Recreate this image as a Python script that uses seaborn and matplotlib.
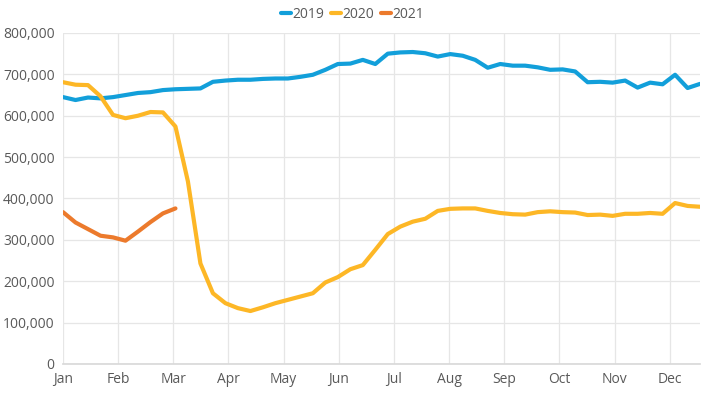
import pandas as pd
import numpy as np
import matplotlib.pyplot as plt
import seaborn as sns
from matplotlib.ticker import FuncFormatter

sns.set_theme(style="white")
plt.rcParams["font.family"] = ["Open Sans", "DejaVu Sans"]

# weekly values
sales_2019 = [645000, 638000, 644000, 642000, 645000, 650000, 655000, 657000, 662000, 664000,
              665000, 666000, 682000, 685000, 687000, 687000, 689000, 690000, 690000, 694000,
              699000, 711000, 725000, 726000, 735000, 725000, 750000, 753000, 754000, 751000,
              743000, 749000, 745000, 735000, 716000, 725000, 721000, 721000, 717000, 711000,
              712000, 707000, 681000, 682000, 680000, 685000, 668000, 680000, 676000, 699000,
              667000, 677000]
sales_2020 = [681000, 675000, 674000, 647000, 602000, 594000, 600000, 609000, 608000, 574000,
              441000, 243000, 171000, 147000, 135000, 128000, 137000, 147000, 155000, 163000,
              171000, 197000, 210000, 229000, 239000, 276000, 314000, 332000, 344000, 351000,
              370000, 375000, 376000, 376000, 370000, 365000, 362000, 361000, 367000, 369000,
              367000, 366000, 360000, 361000, 358000, 363000, 363000, 365000, 363000, 389000,
              382000, 380000]
sales_2021 = [367000, 342000, 326000, 310000, 306000, 298000, 320000, 343000, 364000, 376000]

months = ["Jan", "Feb", "Mar", "Apr", "May", "Jun", "Jul", "Aug", "Sep", "Oct", "Nov", "Dec"]
years = ["2019", "2020", "2021"]
colors = {"2019": "#129FDA", "2020": "#FDB726", "2021": "#EC7A2C"}

frames = []
for yr, vals in zip(years, [sales_2019, sales_2020, sales_2021]):
    frames.append(pd.DataFrame({"week": np.arange(len(vals)), "sales": vals, "year": yr}))
df = pd.concat(frames, ignore_index=True)

fig = plt.figure(figsize=(7.05, 3.95), dpi=100)
ax = fig.add_axes([0.0894, 0.0785, 0.9036, 0.838])

sns.lineplot(data=df, x="week", y="sales", hue="year", palette=colors,
             linewidth=3.0, ax=ax, legend=False)

ax.set_xlim(0, 51)
ax.set_ylim(0, 800000)
ax.set_yticks(np.arange(0, 800001, 100000))
ax.yaxis.set_major_formatter(FuncFormatter(lambda v, p: f"{int(v):,}"))
month_pos = np.arange(12) * 4.415
ax.set_xticks(month_pos)
ax.set_xticklabels(months)
ax.set_xlabel("")
ax.set_ylabel("")

ax.grid(True, color="#E6E6E6", linewidth=0.9)
ax.set_axisbelow(True)
for s in ["top", "right", "left"]:
    ax.spines[s].set_visible(False)
ax.spines["bottom"].set_color("#D9D9D9")
ax.tick_params(axis="both", colors="#595959", labelsize=10, length=0, pad=6)

handles = [plt.Line2D([], [], color=colors[y], linewidth=3.0) for y in years]
fig.legend(handles, years, loc="upper center", bbox_to_anchor=(0.5, 1.015), ncol=3,
           frameon=False, handlelength=0.7, handletextpad=0.1, columnspacing=0.5,
           labelcolor="#595959", fontsize=10)

fig.savefig("out.png", dpi=100)
